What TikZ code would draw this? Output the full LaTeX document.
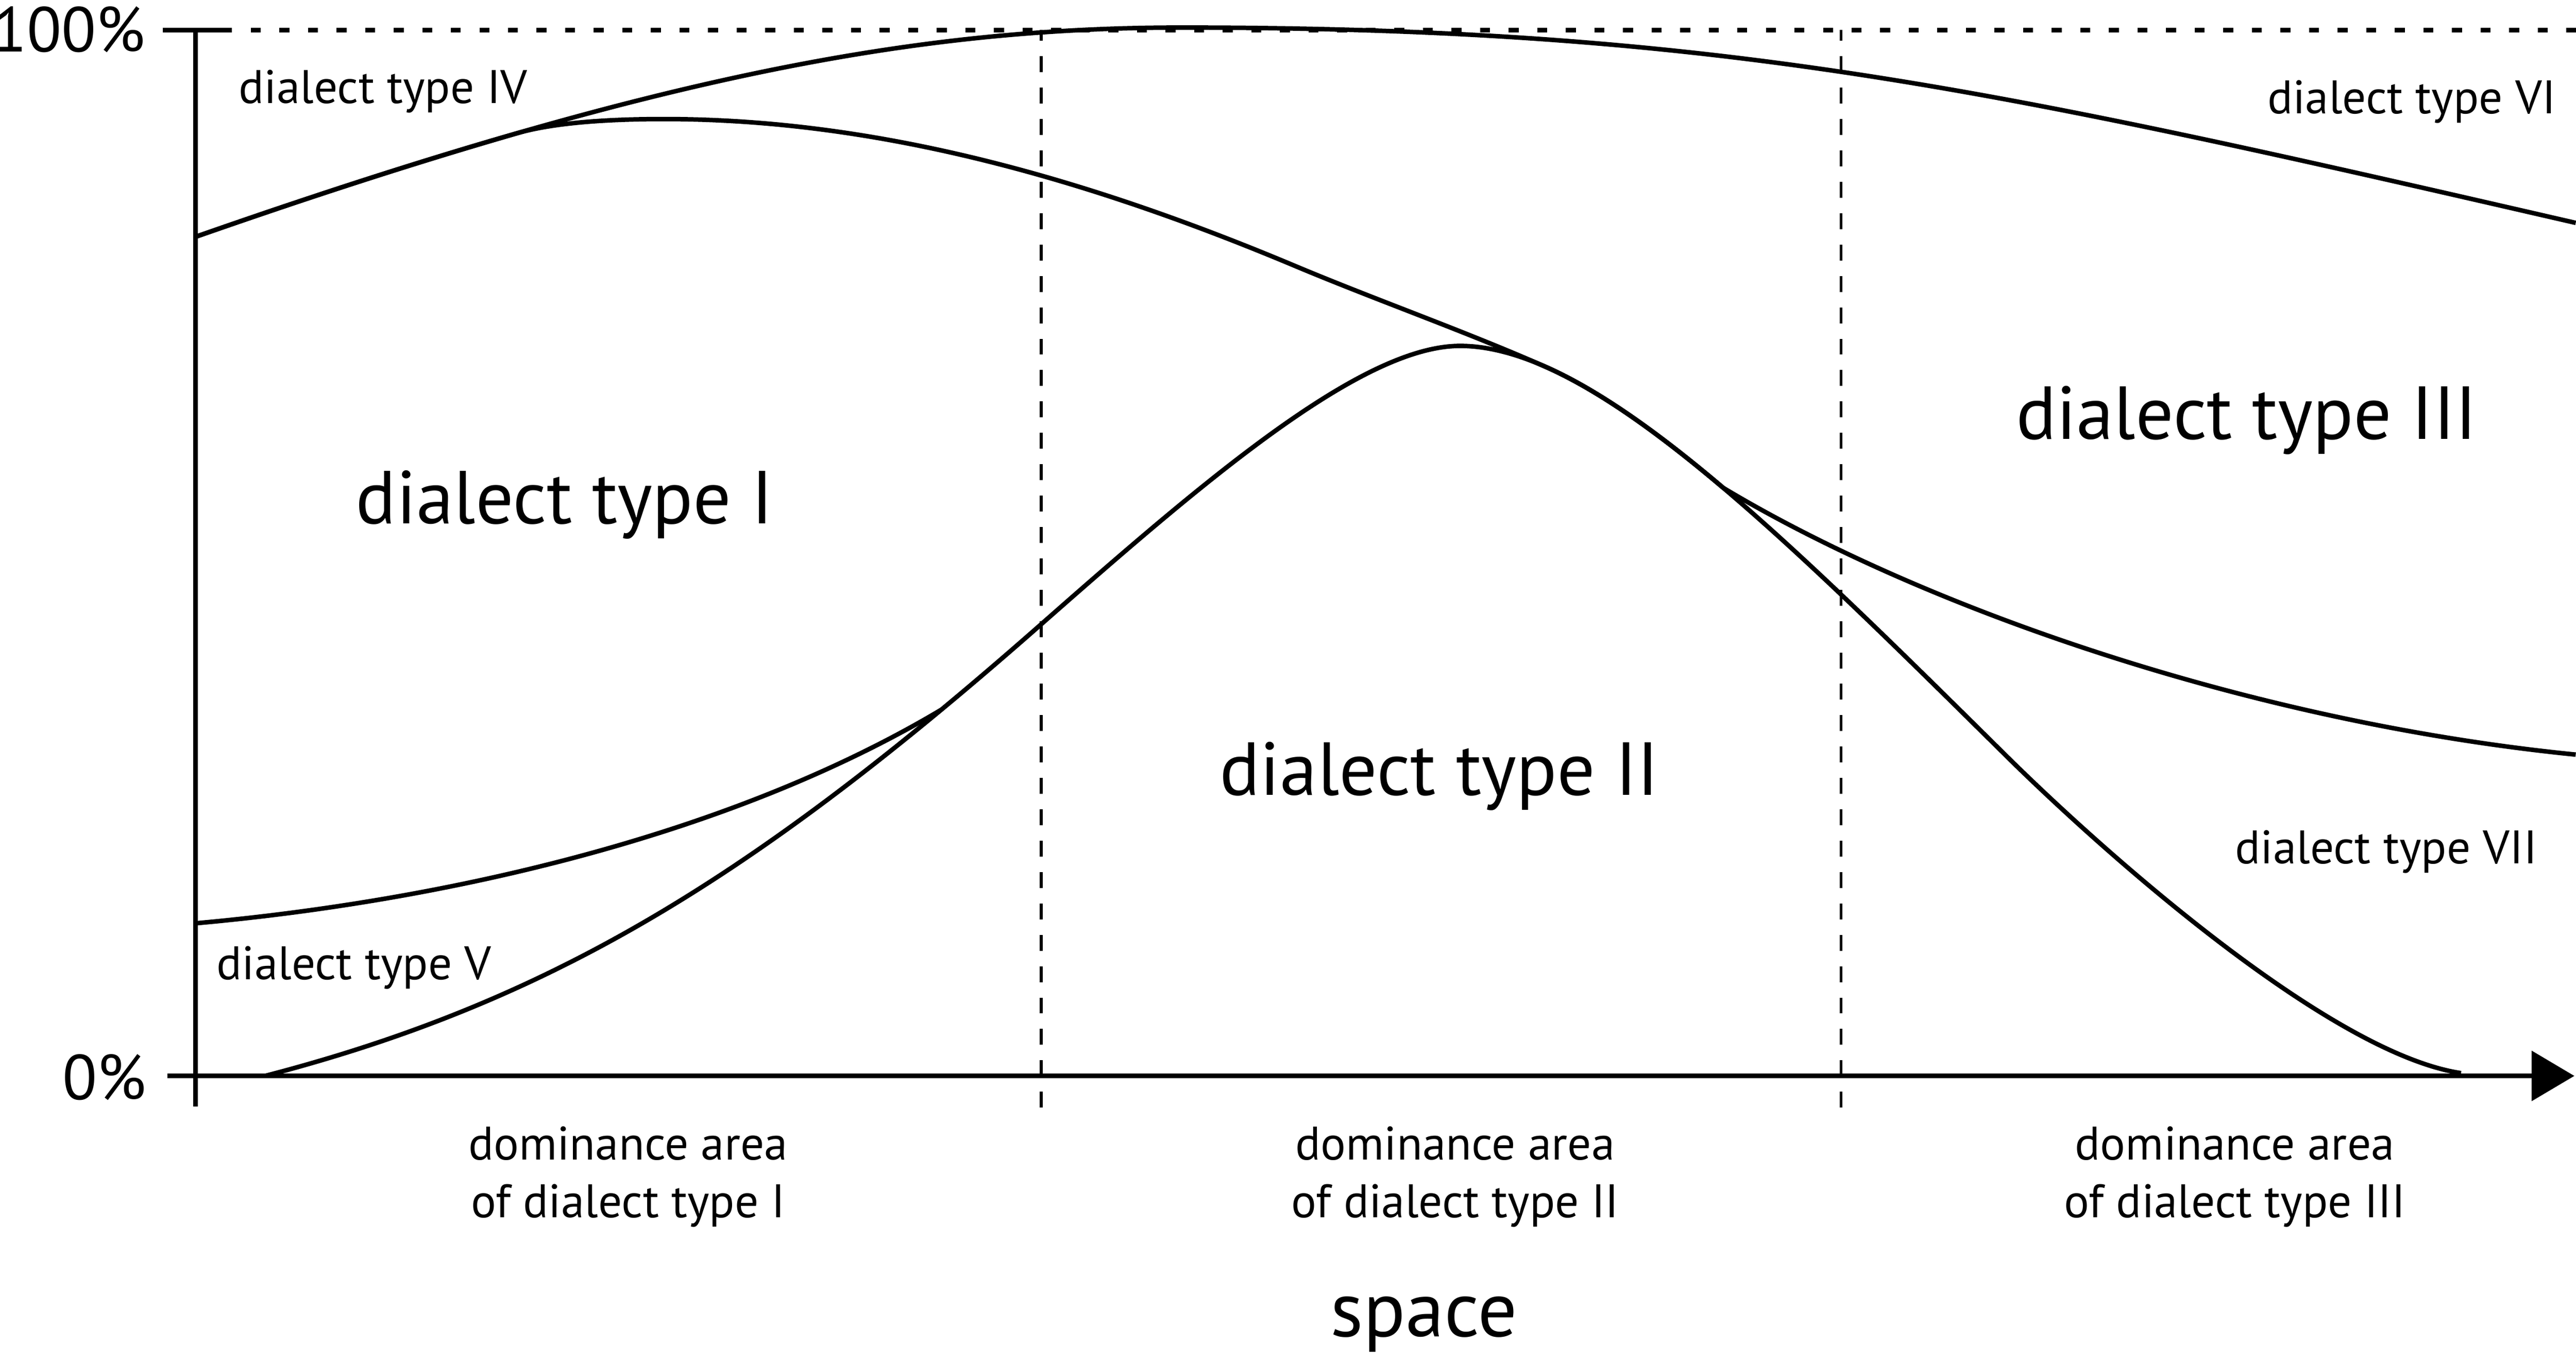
\documentclass[tikz,border=0pt]{standalone}
\usepackage{fontspec}
\setmainfont{PT Sans}
\usetikzlibrary{arrows.meta}

\begin{document}
\begin{tikzpicture}[
  axis/.style={line width=0.85pt},
  curve/.style={line width=0.78pt},
  arealine/.style={line width=0.47pt, dash pattern=on 0.097cm off 0.094cm},
  bigtype/.style={font=\fontsize{13}{16}\selectfont, inner sep=0pt, anchor=base},
  smalltype/.style={font=\fontsize{8.15}{10}\selectfont, inner sep=0pt, anchor=base},
  percent/.style={font=\fontsize{11}{14}\selectfont, inner sep=0pt, anchor=base east}
]
\useasboundingbox (-1.19,-1.74) rectangle (14.49,6.55);

% axes
\coordinate (O) at (0,0);
\coordinate (top) at (0,6.367);
\draw [axis] (0,-0.186) -- (top);
\draw [axis] (-0.2,6.367) -- (0.221,6.367);
\draw [axis, dash pattern=on 0.061cm off 0.113cm] (0.336,6.367) -- (14.49,6.367);
\draw [axis, -{Triangle[length=0.26cm, width=0.30cm]}] (-0.172,0) -- (14.48,0);
\node [percent] (full) at (-0.299,6.235) {100\%};
\node [percent] (zero) at (-0.293,-0.145) {0\%};

% borders of the dominance areas
\draw [arealine] (5.148,-0.193) -- (5.148,6.367);
\draw [arealine] (10.016,-0.193) -- (10.016,6.367);

% type IV / type VI
\draw [curve] (0,5.108) .. controls (2.8,6.088) and (4.4,6.382) .. (6.0,6.382)
  .. controls (9.3,6.382) and (10.988,5.998) .. (14.488,5.193);
% type I / type III
\draw [curve] (0,5.108) .. controls (0.728,5.363) and (1.375,5.571) .. (1.962,5.740)
  .. controls (2.2,5.808) and (2.55,5.825) .. (2.85,5.825)
  .. controls (4.05,5.825) and (5.29,5.52) .. (6.69,4.932)
  .. controls (7.19,4.722) and (7.715,4.538) .. (8.215,4.318)
  .. controls (8.539,4.175) and (8.901,3.918) .. (9.299,3.58)
  .. controls (10.499,2.86) and (12.488,2.156) .. (14.488,1.956);
% type II
\draw [curve] (0.423,0) .. controls (2.173,0.455) and (3.398,1.21) .. (5.148,2.75)
  .. controls (6.148,3.63) and (7.097,4.444) .. (7.697,4.444)
  .. controls (8.497,4.444) and (9.614,3.342) .. (11.014,1.956)
  .. controls (11.614,1.362) and (12.99,0.137) .. (13.79,0.017);
% type I / type V
\draw [curve] (0,0.929) .. controls (1.5,1.064) and (3.239,1.454) .. (4.539,2.229);

\node [smalltype] (typeIV) at (1.142,5.92) {dialect type IV};
\node [smalltype] (typeVI) at (13.49,5.857) {dialect type VI};
\node [bigtype] (typeI) at (2.247,3.363) {dialect type I};
\node [bigtype] (typeII) at (7.571,1.709) {dialect type II};
\node [bigtype] (typeIII) at (12.485,3.876) {dialect type III};
\node [smalltype] (typeV) at (0.965,0.587) {dialect type V};
\node [smalltype] (typeVII) at (13.335,1.292) {dialect type VII};

\node [smalltype] (domI) at (2.633,-0.512) {dominance area};
\node [smalltype] (ofI) at (2.633,-0.863) {of dialect type I};
\node [smalltype] (domII) at (7.668,-0.512) {dominance area};
\node [smalltype] (ofII) at (7.668,-0.863) {of dialect type II};
\node [smalltype] (domIII) at (12.413,-0.512) {dominance area};
\node [smalltype] (ofIII) at (12.413,-0.863) {of dialect type III};

\node [bigtype, font=\fontsize{13.5}{16}\selectfont] (space) at (7.477,-1.586) {space};
\end{tikzpicture}
\end{document}
